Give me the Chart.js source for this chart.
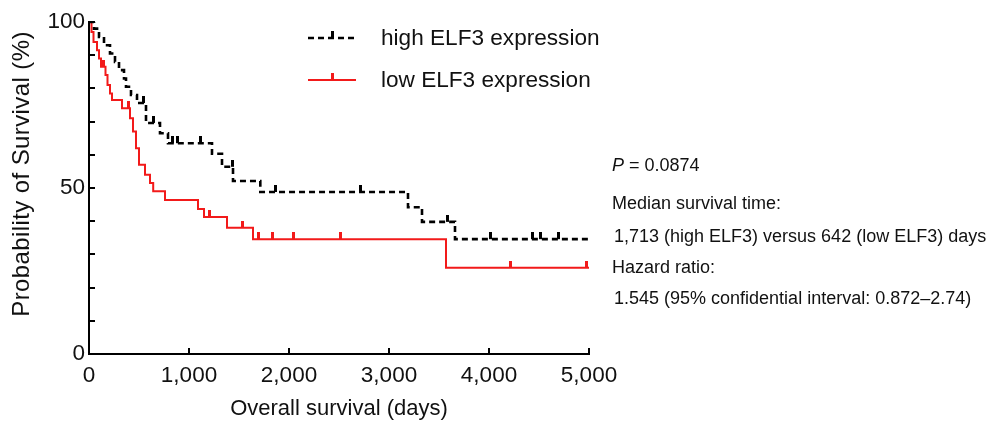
<!DOCTYPE html>
<html>
<head>
<meta charset="utf-8">
<script src="https://cdn.jsdelivr.net/npm/chart.js@4.4.1/dist/chart.umd.min.js"></script>
<style>
  html, body { margin: 0; padding: 0; background: #fff; }
  #wrap { width: 988px; height: 422px; }
</style>
</head>
<body>
<div id="wrap"><canvas id="kmChart" width="988" height="422"></canvas></div>
<script>
// Kaplan-Meier steps (day of drop, survival % after the drop)
const highDays = [0, 50, 100, 150, 210, 260, 300, 350, 370, 420, 480, 570, 710, 790, 1230, 1330, 1440, 1713, 3190, 3330, 3660, 5000];
const highSurvival = [100, 98, 95.5, 93, 90.5, 88, 85.5, 83, 80.5, 78, 75.6, 69.6, 66.5, 63.5, 60.3, 56.4, 52.1, 48.8, 44.2, 39.8, 34.6, 34.6];
const highCensorDays = [540, 640, 830, 880, 1110, 1430, 1860, 2710, 3580, 4010, 4430, 4510, 4690];
const highCensorSurvival = [75.6, 69.6, 63.5, 63.5, 63.5, 56.4, 48.8, 48.8, 39.8, 34.6, 34.6, 34.6, 34.6];

const lowDays = [0, 25, 45, 80, 100, 120, 165, 185, 210, 230, 330, 410, 440, 470, 500, 560, 610, 642, 760, 1090, 1150, 1380, 1640, 3570, 5000];
const lowSurvival = [100, 97, 94, 91.5, 89, 86.5, 84, 81, 78.5, 76.5, 74, 71, 67, 62, 57, 54, 51.5, 49, 46.4, 43.7, 41.3, 38, 34.6, 26, 26];
const lowCensorDays = [145, 390, 1200, 1530, 1690, 1830, 2040, 2510, 4210, 4970];
const lowCensorSurvival = [86.5, 74, 41.3, 38, 34.6, 34.6, 34.6, 34.6, 26, 26];

const seriesLabels = ['high ELF3 expression', 'low ELF3 expression'];
const xTicks = [0, 1000, 2000, 3000, 4000, 5000];
const yLabelled = [0, 50, 100];
const yTitle = 'Probability of Survival (%)';
// [italic part, plain part, indent]
const notes = [
    ['P', ' = 0.0874', 0],
    ['', 'Median survival time:', 0],
    ['', '1,713 (high ELF3) versus 642 (low ELF3) days', 2],
    ['', 'Hazard ratio:', 0],
    ['', '1.545 (95% confidential interval: 0.872\u20132.74)', 2]
];

const FONT = '"Liberation Sans", Arial, Helvetica, sans-serif';
const RED = '#f21a1a';

function toPoints(xs, ys) {
    return xs.map((x, i) => ({ x: x, y: ys[i] }));
}

// little upward censor tick used as point style
function censorMark(color) {
    const c = document.createElement('canvas');
    c.width = 3;
    c.height = 14;
    const g = c.getContext('2d');
    g.fillStyle = color;
    g.fillRect(0, 0, 3, 7);
    return c;
}
const blackMark = censorMark('#000');
const redMark = censorMark(RED);

const overlay = {
    id: 'overlay',
    afterDraw(chart) {
        const ctx = chart.ctx;
        const xs = chart.scales.x;
        const ys = chart.scales.y;
        ctx.save();

        // inward tick marks
        ctx.strokeStyle = '#000';
        ctx.lineWidth = 2;
        ctx.beginPath();
        xs.ticks.forEach(t => {
            const px = Math.round(xs.getPixelForValue(t.value));
            ctx.moveTo(px, ys.bottom);
            ctx.lineTo(px, ys.bottom - 6);
        });
        ys.ticks.forEach(t => {
            const py = Math.round(ys.getPixelForValue(t.value));
            ctx.moveTo(xs.left, py);
            ctx.lineTo(xs.left + 6, py);
        });
        ctx.stroke();

        // y axis title
        ctx.save();
        ctx.translate(22, 174);
        ctx.rotate(-Math.PI / 2);
        ctx.font = '24px ' + FONT;
        if ('letterSpacing' in ctx) ctx.letterSpacing = '0.4px';
        ctx.fillStyle = '#111';
        ctx.textAlign = 'center';
        ctx.textBaseline = 'middle';
        ctx.fillText(yTitle, 0, 0);
        ctx.restore();

        // legend
        const legendRows = [38, 80];
        chart.data.datasets.slice(0, 2).forEach((ds, i) => {
            const y = legendRows[i];
            ctx.strokeStyle = ds.borderColor;
            ctx.lineWidth = ds.borderWidth;
            ctx.setLineDash(ds.borderDash || []);
            ctx.beginPath();
            ctx.moveTo(308, y);
            ctx.lineTo(356, y);
            ctx.stroke();
            ctx.setLineDash([]);
            const mark = i === 0 ? blackMark : redMark;
            ctx.drawImage(mark, 331, y - 7);
            ctx.fillStyle = '#111';
            ctx.font = '22.6px ' + FONT;
            ctx.textBaseline = 'middle';
            ctx.fillText(seriesLabels[i], 381, y + 1);
        });

        // statistics text
        const rows = [166, 204, 237, 268, 299];
        ctx.font = '18px ' + FONT;
        ctx.fillStyle = '#111';
        ctx.textBaseline = 'middle';
        notes.forEach((n, i) => {
            let x = 612 + n[2];
            if (n[0]) {
                ctx.font = 'italic 18px ' + FONT;
                ctx.fillText(n[0], x, rows[i]);
                x += ctx.measureText(n[0]).width;
                ctx.font = '18px ' + FONT;
            }
            ctx.fillText(n[1], x, rows[i]);
        });
        ctx.restore();
    }
};

const ctx = document.getElementById('kmChart').getContext('2d');
const chart = new Chart(ctx, {
    type: 'line',
    data: {
        datasets: [
            {
                label: seriesLabels[0],
                data: toPoints(highDays, highSurvival),
                borderColor: '#000',
                borderWidth: 2.6,
                borderDash: [6, 4],
                stepped: true,
                pointRadius: 0,
                fill: false
            },
            {
                label: seriesLabels[1],
                data: toPoints(lowDays, lowSurvival),
                borderColor: RED,
                borderWidth: 2,
                stepped: true,
                pointRadius: 0,
                fill: false
            },
            {
                label: 'high censored',
                data: toPoints(highCensorDays, highCensorSurvival),
                showLine: false,
                pointStyle: blackMark,
                pointRadius: 3,
                borderColor: '#000'
            },
            {
                label: 'low censored',
                data: toPoints(lowCensorDays, lowCensorSurvival),
                showLine: false,
                pointStyle: redMark,
                pointRadius: 3,
                borderColor: RED
            }
        ]
    },
    options: {
        responsive: false,
        animation: false,
        devicePixelRatio: 1,
        layout: { padding: { left: 6, top: 22, right: 399, bottom: 0 } },
        plugins: {
            legend: { display: false },
            tooltip: { enabled: false }
        },
        scales: {
            x: {
                type: 'linear',
                min: 0,
                max: 5000,
                afterBuildTicks: scale => { scale.ticks = xTicks.map(v => ({ value: v })); },
                afterFit: scale => { scale.height = 68; },
                grid: { display: false, drawTicks: false, tickLength: 0 },
                border: { display: true, color: '#000', width: 2 },
                ticks: {
                    padding: 8,
                    maxRotation: 0,
                    color: '#111',
                    font: { family: FONT, size: 22.5 },
                    callback: v => v.toLocaleString('en-US')
                },
                title: {
                    display: true,
                    text: 'Overall survival (days)',
                    color: '#111',
                    font: { family: FONT, size: 22 },
                    padding: { top: 0, bottom: 0 }
                }
            },
            y: {
                min: 0,
                max: 100,
                afterFit: scale => { scale.width = 83; },
                grid: { display: false, drawTicks: false, tickLength: 0 },
                border: { display: true, color: '#000', width: 2 },
                ticks: {
                    stepSize: 10,
                    padding: 4,
                    color: '#111',
                    font: { family: FONT, size: 22.5 },
                    callback: v => (yLabelled.includes(v) ? v : '')
                },
                title: { display: false }
            }
        }
    },
    plugins: [overlay]
});
</script>
</body>
</html>
